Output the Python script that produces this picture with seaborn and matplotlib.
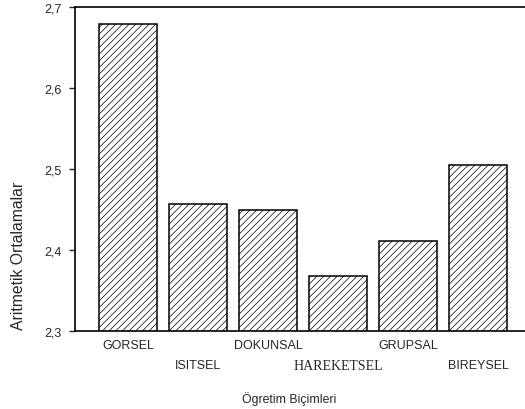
import numpy as np
import pandas as pd
import seaborn as sns
from matplotlib import pyplot as plt

# values
categories = ['GORSEL', 'ISITSEL', 'DOKUNSAL', 'HAREKETSEL', 'GRUPSAL', 'BIREYSEL']
means = [2.679, 2.457, 2.450, 2.368, 2.411, 2.505]
yticks = [2.3, 2.4, 2.5, 2.6, 2.7]
ytick_labels = ['2,3', '2,4', '2,5', '2,6', '2,7']

sns.set_style('white')
plt.rcParams['font.family'] = ['Liberation Sans', 'DejaVu Sans']
plt.rcParams['hatch.linewidth'] = 0.5

df = pd.DataFrame({'kategori': categories, 'ortalama': means})

fig = plt.figure(figsize=(5.25, 4.1), dpi=100)
ax = fig.add_axes([75/525, 78/410, 450/525, 324/410])
sns.barplot(data=df, x='kategori', y='ortalama', color='white',
            edgecolor='black', linewidth=1.1, width=0.83, ax=ax)
for bar in ax.patches:
    bar.set_hatch('/////')

ax.set_ylim(2.3, 2.7)
ax.set_xlim(-0.757, 5.67)
ax.set_yticks(yticks)
ax.set_yticklabels(ytick_labels, fontsize=9)

ax.spines['right'].set_visible(False)
for s in ['left', 'bottom', 'top']:
    ax.spines[s].set_linewidth(1.2)
    ax.spines[s].set_color('black')

ax.tick_params(axis='y', direction='out', length=4, width=1, pad=5.5, left=True)
ax.tick_params(axis='x', direction='in', length=2.5, width=1, bottom=True)
ax.set_xticks(range(len(categories)))
ax.set_xticklabels(categories, fontsize=9)
for i, tick in enumerate(ax.xaxis.get_major_ticks()):
    tick.set_pad(6 if i % 2 == 0 else 20)
lab = ax.get_xticklabels()[3]
lab.set_family('Liberation Serif')
lab.set_fontsize(10)

ax.set_ylabel('Aritmetik Ortalamalar', fontsize=11.3)
ax.yaxis.set_label_coords(-0.108, 0.235)
ax.set_xlabel('Ögretim Biçimleri', fontsize=8.8)
ax.xaxis.set_label_coords(0.476, -0.185)

fig.savefig('out.png', dpi=100)
